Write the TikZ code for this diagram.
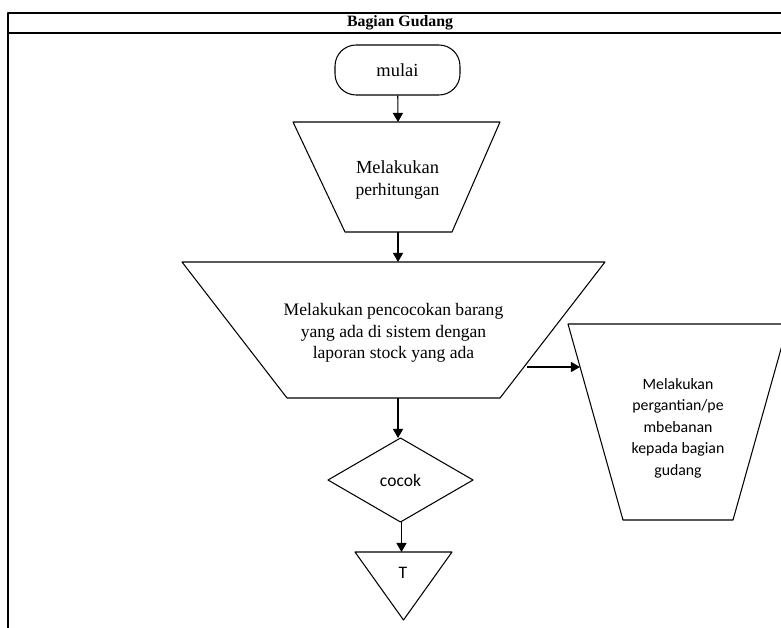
\documentclass[tikz,border=0pt]{standalone}
\usepackage{fontspec}
\setmainfont{Liberation Serif}
\newfontfamily\calibrifont{Carlito}
\usetikzlibrary{arrows.meta}

\begin{document}
\begin{tikzpicture}[%
        x = 0.02cm,
        y = -0.02cm,
        line width = 0.6pt,
        line join = round,
        font = \fontsize{10}{12.2}\selectfont,
        arrow/.style = {-{Triangle[length=5.2pt,width=5.8pt]}},
        frame/.style = {line width = 1pt},
        serif/.style = {align = center},
        sans/.style = {align = center, font = \calibrifont\fontsize{9}{12.2}\selectfont}
    ]

        % Page area and the swimlane frame.
        \clip (0,0) rectangle (781,628);
        \draw[frame] (8,13) rectangle (800,650);
        \draw[frame] (8,33) -- (800,33);
        \node (lane) at (400,23) {\fontsize{9}{10}\selectfont\bfseries Bagian Gudang};

        % Outlines of the flow steps.
        \node[draw, rounded corners = 12pt, minimum width = 2.5cm,
            minimum height = 1cm] (mulai) at (397.5,70) {\fontsize{10.5}{12}\selectfont mulai};
        \draw (293,122) -- (500,122) -- (452,232) -- (345,232) -- cycle;
        \draw (182,262) -- (605,262) -- (500,398) -- (287,398) -- cycle;
        \draw (568,324) -- (788,324) -- (733,520) -- (623,520) -- cycle;
        \draw (400.5,438) -- (473,480) -- (400.5,522) -- (328,480) -- cycle;
        \draw (355,552) -- (452,552) -- (403.5,620) -- cycle;

        % Texts of the flow steps.
        \node[serif] (hitung) at (397.5,180)
            {\fontsize{10.5}{15}\selectfont Melakukan\\perhitungan};
        \node[serif] (cocokkan) at (393.5,333)
            {Melakukan pencocokan barang\\yang ada di sistem dengan\\laporan stock yang ada};
        \node[sans] (beban) at (678,428)
            {Melakukan\\pergantian/pe\\mbebanan\\kepada bagian\\gudang};
        \node[sans, font = \calibrifont\fontsize{10}{12}\selectfont] (cocok) at (400.5,480) {cocok};
        \node[sans, font = \calibrifont\fontsize{10}{12}\selectfont] (tidak) at (403,573) {T};

        % Where the connectors meet the outlines.
        \coordinate (hitung-in) at (398,122);
        \coordinate (hitung-out) at (398,232);
        \coordinate (cocokkan-in) at (398,262);
        \coordinate (cocokkan-out) at (398,398);
        \coordinate (cocokkan-side) at (527,367);
        \coordinate (beban-in) at (580,367);
        \coordinate (cocok-in) at (398,438);
        \coordinate (cocok-out) at (401.5,522);
        \coordinate (tidak-in) at (401.5,552);

        % Connectors.
        \draw[arrow] (mulai) -- (hitung-in);
        \draw[arrow] (hitung-out) -- (cocokkan-in);
        \draw[arrow] (cocokkan-out) -- (cocok-in);
        \draw[arrow] (cocokkan-side) -- (beban-in);
        \draw[arrow] (cocok-out) -- (tidak-in);
    \end{tikzpicture}
\end{document}
